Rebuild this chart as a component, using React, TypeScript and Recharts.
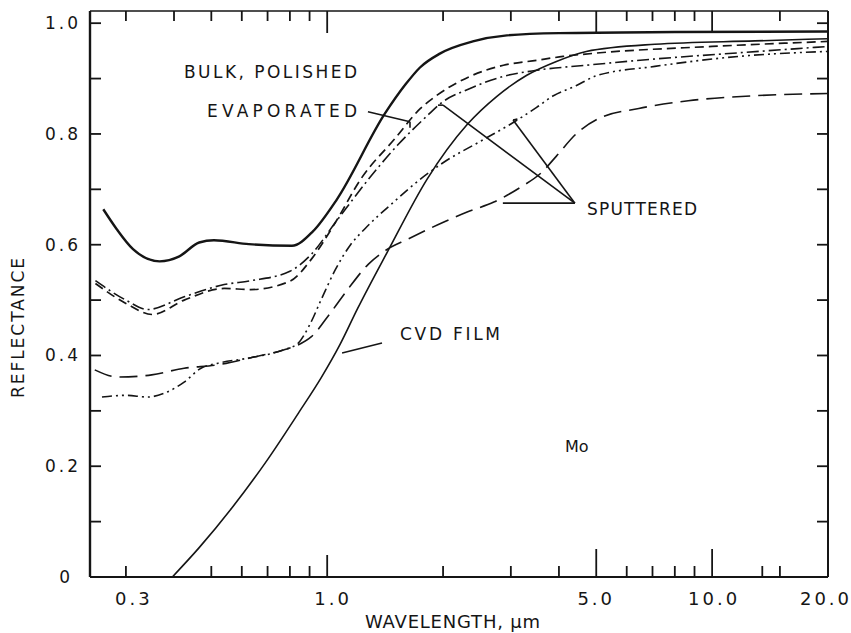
import { LineChart, Line, XAxis, YAxis, ReferenceLine } from "recharts";

// wavelength (um) / reflectance
const bulkWl = [0.262, 0.284, 0.313, 0.367, 0.413, 0.465, 0.508, 0.626, 0.81, 0.918, 1.06, 1.413, 1.6, 1.742, 1.962, 2.39, 2.93, 4.0, 8.0, 20];
const bulkR = [0.664, 0.628, 0.592, 0.57, 0.579, 0.604, 0.608, 0.601, 0.598, 0.624, 0.682, 0.837, 0.89, 0.92, 0.945, 0.967, 0.978, 0.982, 0.984, 0.985];

const evapWl = [0.25, 0.3, 0.352, 0.425, 0.54, 0.633, 0.8, 0.91, 1.05, 1.224, 1.497, 1.747, 1.93, 2.35, 2.87, 3.5, 4.1, 5.0, 10, 20];
const evapR = [0.53, 0.494, 0.474, 0.5, 0.521, 0.519, 0.534, 0.574, 0.64, 0.719, 0.791, 0.846, 0.87, 0.904, 0.924, 0.933, 0.94, 0.946, 0.958, 0.967];

const sputAWl = [0.25, 0.3, 0.342, 0.425, 0.54, 0.633, 0.8, 0.91, 1.05, 1.3, 1.52, 1.82, 1.97, 2.35, 2.87, 3.5, 4.7, 7.0, 12, 20];
const sputAR = [0.535, 0.5, 0.483, 0.506, 0.528, 0.535, 0.552, 0.583, 0.64, 0.724, 0.779, 0.833, 0.855, 0.882, 0.904, 0.915, 0.924, 0.935, 0.947, 0.958];

const sputBWl = [0.26, 0.3, 0.342, 0.378, 0.425, 0.47, 0.52, 0.633, 0.77, 0.84, 0.9, 0.965, 1.05, 1.15, 1.25, 1.5, 1.75, 2.0, 2.55, 3.0, 3.5, 3.87, 4.43, 5.0, 7.1, 11.7, 20];
const sputBR = [0.325, 0.328, 0.325, 0.332, 0.352, 0.377, 0.386, 0.396, 0.41, 0.422, 0.455, 0.501, 0.555, 0.6, 0.628, 0.679, 0.719, 0.748, 0.79, 0.818, 0.848, 0.869, 0.887, 0.905, 0.922, 0.94, 0.949];

const sputCWl = [0.249, 0.286, 0.35, 0.425, 0.518, 0.633, 0.77, 0.84, 0.91, 1.02, 1.13, 1.28, 1.42, 1.62, 2.01, 2.31, 2.71, 3.2, 3.6, 3.94, 4.43, 5.08, 6.45, 8.67, 12.9, 20];
const sputCR = [0.374, 0.361, 0.365, 0.377, 0.383, 0.396, 0.41, 0.419, 0.434, 0.477, 0.519, 0.565, 0.59, 0.61, 0.641, 0.659, 0.677, 0.705, 0.73, 0.76, 0.8, 0.828, 0.846, 0.86, 0.869, 0.873];

const cvdWl = [0.396, 0.465, 0.566, 0.692, 0.842, 0.965, 1.08, 1.2, 1.436, 1.82, 2.31, 2.76, 3.3, 3.94, 4.71, 7.1, 12.9, 20];
const cvdR = [0, 0.053, 0.125, 0.207, 0.296, 0.36, 0.42, 0.485, 0.588, 0.719, 0.817, 0.868, 0.906, 0.931, 0.949, 0.962, 0.968, 0.972];

const bottomTicks = [0.3, 0.5, 0.6, 0.7, 0.8, 0.9, 1, 2, 3, 4, 5, 6, 7, 8, 9, 10, 13.5, 15];
const topTicks = [0.3, 0.4, 0.5, 0.6, 0.7, 0.8, 0.9, 1, 2, 3, 4, 5, 6, 7, 8, 9, 10, 15];
const xLabels: Record<number, string> = { 0.3: "0.3", 1: "1.0", 5: "5.0", 10: "10.0", 20: "20.0" };
const yTicks = [0, 0.1, 0.2, 0.3, 0.4, 0.5, 0.6, 0.7, 0.8, 0.9, 1.0];
const yLabels: Record<number, string> = { 0: "0", 0.2: "0.2", 0.4: "0.4", 0.6: "0.6", 0.8: "0.8", 1: "1.0" };

const pts = (wl: number[], r: number[]) => wl.map((w, i) => ({ wl: w, r: r[i] }));

const INK = "#151515";
const FONT = "DejaVu Sans, sans-serif";
const W = 851;
const H = 633;
const LEFT = 90;
const RIGHT = 828;
const TOP = 11;
const BOTTOM = 577;
const AX = 1; // thickness given to each axis box

const labelDx: Record<number, number> = { 0.3: 8, 1: 6, 5: 0, 10: 2, 20: -2 };

function BottomTick(props: any) {
  const { x, payload } = props;
  const v = payload.value;
  const len = v === 5 || v === 10 ? 28 : v === 1 ? 22 : 11;
  return (
    <g>
      {v < 20 && <line x1={x} x2={x} y1={BOTTOM} y2={BOTTOM - len} stroke={INK} strokeWidth={1.8} />}
      {xLabels[v] && (
        <text x={x + (labelDx[v] ?? 0)} y={605} textAnchor="middle" fontSize={18} letterSpacing={3} fill={INK} fontFamily={FONT}>
          {xLabels[v]}
        </text>
      )}
    </g>
  );
}

function TopTick(props: any) {
  const { x, payload } = props;
  const v = payload.value;
  const len = v === 1 || v === 5 || v === 10 ? 22 : 10;
  return <line x1={x} x2={x} y1={TOP} y2={TOP + len} stroke={INK} strokeWidth={1.8} />;
}

function LeftTick(props: any) {
  const { y, payload } = props;
  const v = payload.value;
  const lab = yLabels[Math.round(v * 10) / 10];
  return (
    <g>
      <line x1={LEFT} x2={LEFT + 11} y1={y} y2={y} stroke={INK} strokeWidth={1.8} />
      {lab && (
        <text x={v === 0 ? 73 : 81} y={y + 6} textAnchor="end" fontSize={17} letterSpacing={3} fill={INK} fontFamily={FONT}>
          {lab}
        </text>
      )}
    </g>
  );
}

function RightTick(props: any) {
  const { y } = props;
  return <line x1={RIGHT} x2={RIGHT - 11} y1={y} y2={y} stroke={INK} strokeWidth={1.8} />;
}

const leader = { stroke: INK, strokeWidth: 1.6, ifOverflow: "visible" as const };

export default function App() {
  return (
    <div style={{ position: "absolute", left: 0, top: 0, width: W, height: H, background: "#fff" }}>
      <LineChart
        width={W}
        height={H}
        margin={{ top: TOP - AX, right: W - RIGHT - AX, bottom: H - BOTTOM - AX, left: LEFT - AX }}
      >
        <XAxis
          dataKey="wl"
          type="number"
          scale="log"
          domain={[0.242, 20]}
          allowDataOverflow
          ticks={[...bottomTicks, 20]}
          interval={0}
          height={AX}
          tickLine={false}
          tick={<BottomTick />}
          axisLine={{ stroke: INK, strokeWidth: 2 }}
        />
        <XAxis
          xAxisId="top"
          orientation="top"
          dataKey="wl"
          type="number"
          scale="log"
          domain={[0.242, 20]}
          allowDataOverflow
          ticks={topTicks}
          interval={0}
          height={AX}
          tickLine={false}
          tick={<TopTick />}
          axisLine={{ stroke: INK, strokeWidth: 1.6 }}
        />
        <YAxis
          type="number"
          domain={[0, 1.022]}
          allowDataOverflow
          ticks={yTicks}
          interval={0}
          width={AX}
          tickLine={false}
          tick={<LeftTick />}
          axisLine={{ stroke: INK, strokeWidth: 2.4 }}
        />
        <YAxis
          yAxisId="right"
          orientation="right"
          type="number"
          domain={[0, 1.022]}
          allowDataOverflow
          ticks={yTicks}
          interval={0}
          width={AX}
          tickLine={false}
          tick={<RightTick />}
          axisLine={{ stroke: INK, strokeWidth: 2 }}
        />

        <Line data={pts(bulkWl, bulkR)} dataKey="r" type="monotone" dot={false} stroke={INK} strokeWidth={2.4} isAnimationActive={false} />
        <Line data={pts(evapWl, evapR)} dataKey="r" type="monotone" dot={false} stroke={INK} strokeWidth={1.7} strokeDasharray="9 5" isAnimationActive={false} />
        <Line data={pts(sputAWl, sputAR)} dataKey="r" type="monotone" dot={false} stroke={INK} strokeWidth={1.6} strokeDasharray="12 4 2 4" isAnimationActive={false} />
        <Line data={pts(sputBWl, sputBR)} dataKey="r" type="monotone" dot={false} stroke={INK} strokeWidth={1.6} strokeDasharray="10 4 2 4 2 4" isAnimationActive={false} />
        <Line data={pts(sputCWl, sputCR)} dataKey="r" type="monotone" dot={false} stroke={INK} strokeWidth={1.6} strokeDasharray="18 8" isAnimationActive={false} />
        <Line data={pts(cvdWl, cvdR)} dataKey="r" type="monotone" dot={false} stroke={INK} strokeWidth={1.6} isAnimationActive={false} />

        {/* leader lines */}
        <ReferenceLine segment={[{ x: 1.276, y: 0.84 }, { x: 1.641, y: 0.822 }]} {...leader} />
        <ReferenceLine segment={[{ x: 1.641, y: 0.822 }, { x: 1.641, y: 0.811 }]} {...leader} />
        <ReferenceLine segment={[{ x: 4.4, y: 0.675 }, { x: 2.0, y: 0.852 }]} {...leader} />
        <ReferenceLine segment={[{ x: 2.0, y: 0.852 }, { x: 1.94, y: 0.852 }]} {...leader} />
        <ReferenceLine segment={[{ x: 4.4, y: 0.675 }, { x: 3.04, y: 0.825 }]} {...leader} />
        <ReferenceLine segment={[{ x: 3.04, y: 0.825 }, { x: 3.12, y: 0.827 }]} {...leader} />
        <ReferenceLine segment={[{ x: 4.4, y: 0.675 }, { x: 2.86, y: 0.675 }]} {...leader} />
        <ReferenceLine segment={[{ x: 1.093, y: 0.4045 }, { x: 1.388, y: 0.4225 }]} {...leader} />
      </LineChart>

      <svg width={W} height={H} style={{ position: "absolute", left: 0, top: 0, pointerEvents: "none" }}>
        <g fill={INK} fontFamily={FONT} fontSize={17}>
          <text x={184} y={78} textLength={173} lengthAdjust="spacing">BULK, POLISHED</text>
          <text x={207} y={117} textLength={150} lengthAdjust="spacing">EVAPORATED</text>
          <text x={587} y={215} textLength={110} lengthAdjust="spacing">SPUTTERED</text>
          <text x={400} y={340} textLength={100} lengthAdjust="spacing">CVD FILM</text>
          <text x={565} y={452} fontSize={16}>Mo</text>
          <text x={365} y={628} fontSize={18} textLength={175} lengthAdjust="spacing">WAVELENGTH, µm</text>
          <text
            x={0}
            y={0}
            transform="translate(24 328) rotate(-90)"
            textAnchor="middle"
            textLength={140}
            lengthAdjust="spacing"
          >
            REFLECTANCE
          </text>
        </g>
      </svg>
    </div>
  );
}
